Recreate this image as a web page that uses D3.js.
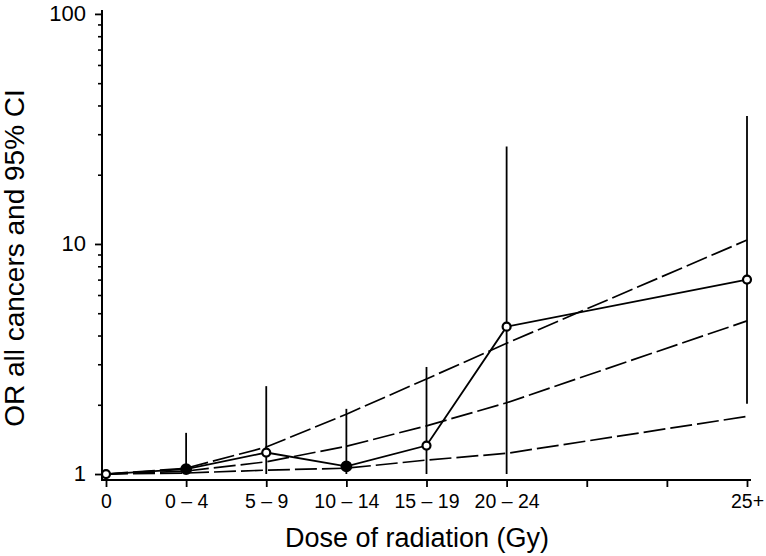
<!DOCTYPE html>
<html>
<head>
<meta charset="utf-8">
<script src="https://cdn.jsdelivr.net/npm/d3@7"></script>
<style>
  html, body { margin: 0; padding: 0; background: #fff; }
  svg { display: block; }
  text { font-family: "Liberation Sans", Arial, Helvetica, sans-serif; fill: #000; }
</style>
</head>
<body>
<svg id="chart" width="766" height="556"></svg>
<script>
// ---- data ----
const tickLabels = ["0", "0 \u2013 4", "5 \u2013 9", "10 \u2013 14", "15 \u2013 19", "20 \u2013 24", "", "", "25+"];
const doseGroups = ["0", "0 \u2013 4", "5 \u2013 9", "10 \u2013 14", "15 \u2013 19", "20 \u2013 24", "25+"];
const groupTick = [0, 1, 2, 3, 4, 5, 8];
const orValues = [1.00, 1.05, 1.24, 1.08, 1.33, 4.37, 7.0];
const ciLower = [null, 1.0, 1.0, 1.0, 1.0, 1.0, 2.02];
const ciUpper = [null, 1.51, 2.41, 1.92, 2.92, 26.5, 36];
const markerFilled = [false, true, false, true, false, false, false];
const fitUpper = [1, 1.06, 1.31, 1.82, 2.59, 3.7, 10.4];
const fitCentral = [1, 1.03, 1.13, 1.32, 1.62, 2.04, 4.63];
const fitLower = [1, 1.01, 1.04, 1.06, 1.15, 1.23, 1.78];
const yMajorTicks = [1, 10, 100];
const yMinorTicks = [2,3,4,5,6,7,8,9,20,30,40,50,60,70,80,90];

// ---- layout ----
const svg = d3.select("#chart");
const axisX0 = 102, axisY0 = 480, axisTop = 10, axisRight = 751;

const x = d3.scaleLinear().domain([0, 8]).range([106, 747]);
const y = d3.scaleLog().domain([0.942, 104]).range([axisY0, axisTop]);

// axes lines
svg.append("line").attr("x1", axisX0).attr("x2", axisX0).attr("y1", axisTop).attr("y2", axisY0 + 1)
  .attr("stroke", "#000").attr("stroke-width", 2);
svg.append("line").attr("x1", axisX0 - 1).attr("x2", axisRight).attr("y1", axisY0).attr("y2", axisY0)
  .attr("stroke", "#000").attr("stroke-width", 2);

// x axis
const xAxis = d3.axisBottom(x).tickValues(d3.range(0, 9)).tickSize(7).tickSizeOuter(0)
  .tickFormat(i => tickLabels[i]);
const gx = svg.append("g").attr("transform", `translate(0,${axisY0})`).call(xAxis);
gx.select(".domain").remove();
gx.selectAll(".tick line").attr("stroke", "#000").attr("stroke-width", 1.8);
gx.selectAll(".tick text").attr("font-size", 19.5).attr("y", 28).attr("dy", 0)
  .style("font-family", '"Liberation Sans", Arial, sans-serif');

// y axis major
const yAxis = d3.axisLeft(y).tickValues(yMajorTicks).tickSize(7).tickSizeOuter(0)
  .tickFormat(d3.format("d"));
const gy = svg.append("g").attr("transform", `translate(${axisX0},0)`).call(yAxis);
gy.select(".domain").remove();
gy.selectAll(".tick line").attr("stroke", "#000").attr("stroke-width", 1.8);
gy.selectAll(".tick text").attr("font-size", 22).attr("x", -16).attr("dy", "0.3em")
  .style("font-family", '"Liberation Sans", Arial, sans-serif');

// y axis minor
const yAxisMinor = d3.axisLeft(y).tickValues(yMinorTicks).tickSize(4).tickSizeOuter(0).tickFormat("");
const gym = svg.append("g").attr("transform", `translate(${axisX0},0)`).call(yAxisMinor);
gym.select(".domain").remove();
gym.selectAll(".tick line").attr("stroke", "#000").attr("stroke-width", 1.6);

// axis titles
svg.append("text").attr("x", 417).attr("y", 547).attr("text-anchor", "middle")
  .attr("font-size", 27).text("Dose of radiation (Gy)");
svg.append("text").attr("transform", "translate(24,258) rotate(-90)").attr("text-anchor", "middle")
  .attr("font-size", 28).text("OR all cancers and 95% CI");

// fitted dashed lines
const line = d3.line().x((d, i) => x(groupTick[i])).y(d => y(d));
[fitUpper, fitCentral, fitLower].forEach(series => {
  svg.append("path").datum(series).attr("d", line).attr("fill", "none")
    .attr("stroke", "#000").attr("stroke-width", 1.7).attr("stroke-dasharray", "22,5");
});

// CI bars
doseGroups.forEach((g, i) => {
  if (ciUpper[i] == null) return;
  svg.append("line").attr("x1", x(groupTick[i])).attr("x2", x(groupTick[i]))
    .attr("y1", y(ciLower[i])).attr("y2", y(ciUpper[i]))
    .attr("stroke", "#000").attr("stroke-width", 1.8);
});

// OR solid line
svg.append("path").datum(orValues).attr("d", line).attr("fill", "none")
  .attr("stroke", "#000").attr("stroke-width", 1.8);

// markers
svg.selectAll("circle.pt").data(orValues).enter().append("circle")
  .attr("class", "pt")
  .attr("cx", (d, i) => x(groupTick[i])).attr("cy", d => y(d))
  .attr("r", (d, i) => markerFilled[i] ? 4.8 : 4)
  .attr("fill", (d, i) => markerFilled[i] ? "#000" : "#fff")
  .attr("stroke", "#000").attr("stroke-width", 2.2);
</script>
</body>
</html>
